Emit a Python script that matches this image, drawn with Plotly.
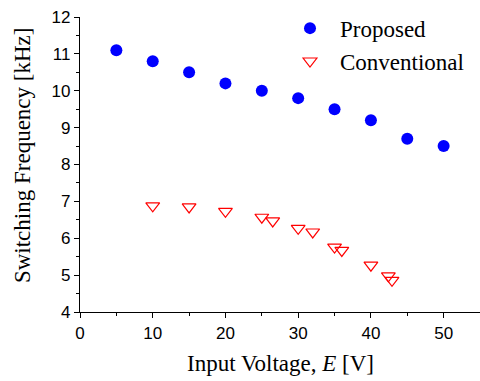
import plotly.graph_objects as go

# Data
prop_x = [5, 10, 15, 20, 25, 30, 35, 40, 45, 50]
prop_y = [11.1, 10.8, 10.5, 10.2, 10.0, 9.8, 9.5, 9.2, 8.7, 8.5]

conv_x = [10, 15, 20, 25, 26.5, 30, 32, 35, 36, 40, 42.4, 42.9]
conv_y = [6.88, 6.85, 6.73, 6.57, 6.47, 6.27, 6.17, 5.76, 5.67, 5.27, 4.98, 4.86]

serif = "Liberation Serif"
sans = "Liberation Sans"

fig = go.Figure()
fig.add_trace(go.Scatter(
    x=prop_x, y=prop_y, mode="markers", name="Proposed",
    marker=dict(symbol="circle", size=12, color="#0000ff", line=dict(width=0)),
))
fig.add_trace(go.Scatter(
    x=conv_x, y=conv_y, mode="markers", name="Conventional",
    marker=dict(symbol="triangle-down-open", size=12, color="#ff0000",
                line=dict(width=1.2, color="#ff0000")),
))

axis_common = dict(
    showline=True, linecolor="black", linewidth=1.3,
    ticks="outside", ticklen=5, tickwidth=1.2, tickcolor="black",
    showgrid=False, zeroline=False, mirror=False,
    tickfont=dict(family=sans, size=17, color="black"),
)

fig.update_xaxes(range=[0, 55], tickvals=[0, 10, 20, 30, 40, 50],
                 minor=dict(dtick=5, tick0=0, ticklen=3, ticks="outside", tickcolor="black", tickwidth=1),
                 **axis_common)
fig.update_yaxes(range=[4, 12], tickvals=[4, 5, 6, 7, 8, 9, 10, 11, 12],
                 minor=dict(dtick=0.5, tick0=4, ticklen=3, ticks="outside", tickcolor="black", tickwidth=1),
                 **axis_common)

fig.add_annotation(text="Switching Frequency [kHz]", xref="paper", yref="paper",
                   x=-0.145, y=0.532, textangle=-90, showarrow=False,
                   xanchor="center", yanchor="middle",
                   font=dict(family=serif, size=23, color="black"))
fig.add_annotation(text="Input Voltage, <i>E</i> [V]", xref="paper", yref="paper",
                   x=0.5, y=-0.173, showarrow=False,
                   xanchor="center", yanchor="middle",
                   font=dict(family=serif, size=23, color="black"))

fig.update_layout(
    width=480, height=381,
    margin=dict(l=80, r=0, t=17, b=69),
    plot_bgcolor="white", paper_bgcolor="white",
    font=dict(family=serif, color="black"),
    showlegend=True,
    legend=dict(x=0.50, y=1.035, xanchor="left", yanchor="top",
                font=dict(family=serif, size=23, color="black"),
                itemwidth=50,
                bgcolor="rgba(0,0,0,0)", borderwidth=0, tracegroupgap=0),
)

fig.write_html("out.html")
